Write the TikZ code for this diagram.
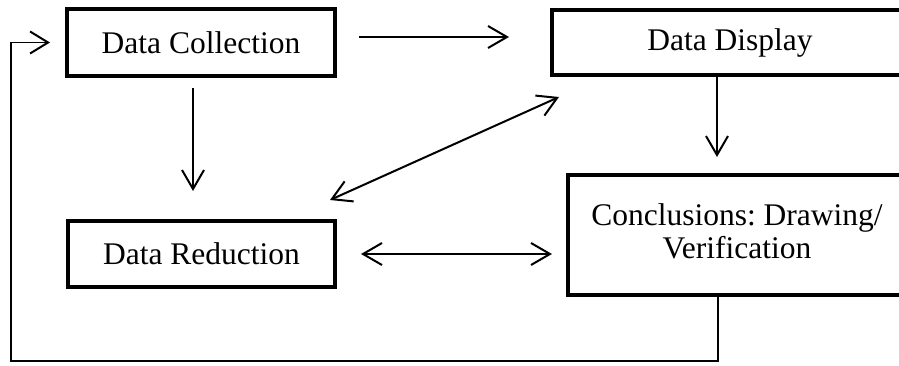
\documentclass[tikz,border=0pt]{standalone}
\usepackage{fontspec}
\setmainfont{Liberation Serif}
\frenchspacing
\usetikzlibrary{arrows.meta,calc}
\begin{document}
\begin{tikzpicture}[x=1pt,y=1pt,
  txt/.style={font=\fontsize{31.5}{33}\selectfont},
  box/.style={draw, line width=4pt, inner sep=0pt, align=center, txt},
  arr/.style={line width=2pt, -{Straight Barb[length=19pt,width=22pt,line width=2pt]}},
  darr/.style={line width=2pt, {Straight Barb[length=19pt,width=22pt,line width=2pt]}-{Straight Barb[length=19pt,width=22pt,line width=2pt]}},
  fb/.style={line width=1.5pt, -{Straight Barb[length=18pt,width=22pt,line width=2pt]}}]
\useasboundingbox (0,0) rectangle (899,365);
\clip (0,0) rectangle (899,365);
\node[box, minimum width=268pt, minimum height=67pt] (DC) at (201,322.5) {Data Collection};
\node[box, minimum width=356pt, minimum height=65pt] (DD) at (730,322.5) {Data Display};
\node[box, minimum width=338pt, minimum height=120pt,
  label={[txt, align=center, yshift=4pt]center:Conclusions: Drawing/\\Verification}] (CV) at (737,130) {};
\node[box, minimum width=267pt, minimum height=66pt] (DR) at (201.5,111) {Data Reduction};
% arrows
\draw[arr, shorten <=22pt, shorten >=41pt] ([yshift=5.5pt]DC.east) -- ([yshift=5.5pt]DD.west);
\draw[arr, shorten <=10pt, shorten >=28pt] ([xshift=-8pt]DC.south) -- ([xshift=-8pt]DC.south |- DR.north);
\draw[arr, shorten >=16pt] ([xshift=-13pt]DD.south) -- ([xshift=-13pt]DD.south |- CV.north);
\draw[darr] ($(DR.north east)+(-7,19)$) -- ($(DD.south west)+(9,-20)$);
\draw[darr, shorten <=24pt, shorten >=14pt] (DR.east) -- (DR.east -| CV.west);
% feedback loop
\coordinate (corner) at (11,4);
\draw[fb, shorten >=15pt] ([xshift=-19pt]CV.south) |- (corner) |- (DC.west);
\end{tikzpicture}
\end{document}
